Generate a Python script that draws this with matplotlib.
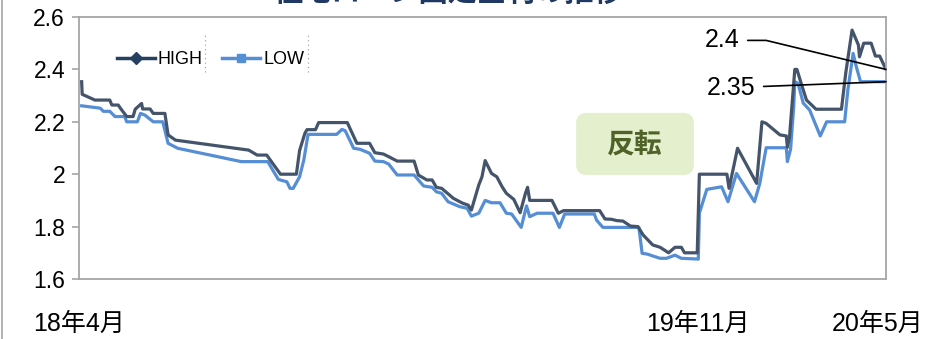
import numpy as np
import pandas as pd
import matplotlib
matplotlib.use('Agg')
import matplotlib.pyplot as plt
from matplotlib.lines import Line2D
from matplotlib.patches import FancyBboxPatch
from matplotlib.transforms import ScaledTranslation

plt.rcParams['font.family'] = ['Liberation Sans', 'Noto Sans CJK JP']

# days since 2018-04-01
high_days = [2.5, 3, 15, 29, 31, 37, 39, 45, 51, 53, 59, 60, 67, 70, 81, 84, 91,
             160, 168, 177, 190, 205, 208, 213, 215, 223, 226, 253, 262, 274, 279,
             287, 292, 300, 316, 320, 328, 333, 337, 342, 353, 359, 362, 367, 370,
             377, 380, 383, 389, 394, 399, 403, 410, 416, 421, 423, 425, 446, 452,
             457, 491, 496, 502, 507, 513, 520, 527, 532, 541, 548, 556, 562, 568,
             571, 583, 585, 611, 613, 617, 621, 639, 644, 648, 661, 667, 668, 670,
             675, 677, 681, 686, 695, 719, 723, 729, 735, 736, 740, 747, 751, 755, 761]
high_vals = [2.353, 2.305, 2.283, 2.283, 2.264, 2.264, 2.252, 2.22, 2.22, 2.248, 2.27,
             2.249, 2.249, 2.232, 2.232, 2.15, 2.13, 2.092, 2.073, 2.073, 2.0, 2.0,
             2.09, 2.156, 2.17, 2.17, 2.197, 2.197, 2.118, 2.118, 2.082, 2.077, 2.067,
             2.05, 2.05, 1.997, 1.978, 1.978, 1.95, 1.946, 1.908, 1.895, 1.889, 1.882,
             1.863, 1.959, 1.99, 2.052, 2.003, 1.99, 1.952, 1.927, 1.904, 1.853, 1.927,
             1.95, 1.9, 1.9, 1.851, 1.861, 1.861, 1.829, 1.828, 1.823, 1.821, 1.802,
             1.8, 1.768, 1.73, 1.721, 1.70, 1.721, 1.721, 1.70, 1.70, 2.0, 2.0, 1.946,
             2.022, 2.099, 1.965, 2.2, 2.194, 2.15, 2.146, 2.103, 2.143, 2.4, 2.4,
             2.347, 2.283, 2.248, 2.248, 2.385, 2.55, 2.493, 2.448, 2.5, 2.5, 2.451,
             2.451, 2.4]

low_days = [2.5, 20, 23, 29, 34, 43, 45, 55, 58, 62, 70, 79, 84, 93, 153, 178, 185,
            188, 196, 199, 202, 208, 212, 216, 243, 248, 251, 259, 265, 274, 279, 287,
            292, 300, 316, 325, 333, 337, 342, 348, 359, 366, 370, 377, 383, 389, 397,
            403, 408, 417, 422, 425, 432, 447, 453, 458, 486, 488, 494, 528, 531, 536,
            541, 548, 554, 562, 568, 584, 585, 592, 606, 612, 620, 637, 642, 648, 667,
            668, 671, 674, 675, 678, 683, 689, 699, 705, 722, 725, 730, 733, 737, 761]
low_vals = [2.261, 2.252, 2.24, 2.24, 2.22, 2.22, 2.20, 2.20, 2.232, 2.226, 2.20, 2.20,
            2.118, 2.099, 2.048, 2.048, 2.0, 1.98, 1.971, 1.946, 1.946, 1.99, 2.054,
            2.152, 2.152, 2.171, 2.166, 2.099, 2.095, 2.08, 2.05, 2.048, 2.039, 1.997,
            1.997, 1.955, 1.95, 1.933, 1.927, 1.895, 1.876, 1.87, 1.84, 1.851, 1.9,
            1.891, 1.891, 1.851, 1.848, 1.797, 1.879, 1.838, 1.851, 1.851, 1.797, 1.848,
            1.848, 1.825, 1.797, 1.797, 1.698, 1.695, 1.688, 1.679, 1.679, 1.691, 1.679,
            1.676, 1.851, 1.942, 1.952, 1.895, 2.003, 1.895, 1.965, 2.101, 2.101, 2.048,
            2.095, 2.258, 2.353, 2.347, 2.271, 2.245, 2.146, 2.20, 2.2, 2.321, 2.461,
            2.41, 2.353, 2.353]

start = pd.Timestamp('2018-04-01')
end = pd.Timestamp('2020-05-01')
high_dates = start + pd.to_timedelta(high_days, unit='D')
low_dates = start + pd.to_timedelta(low_days, unit='D')

tick_dates = [pd.Timestamp('2018-04-01'), pd.Timestamp('2019-11-01'), pd.Timestamp('2020-05-01')]
tick_labels = ['18年4月', '19年11月', '20年5月']
yticks = [1.6, 1.8, 2.0, 2.2, 2.4, 2.6]

HIGH_C = '#44546A'
LOW_C = '#558ED5'
GRAY = '#A6A6A6'

fig = plt.figure(figsize=(9.25, 3.39), dpi=100)
ax = fig.add_axes([79/925, 1 - 279/339, 807/925, 262/339])

ax.plot(low_dates, low_vals, color=LOW_C, lw=2.3, solid_joinstyle='round')
ax.plot(high_dates, high_vals, color=HIGH_C, lw=2.3, solid_joinstyle='round')

ax.set_xlim(start, end)
ax.set_ylim(1.6, 2.6)
ax.set_yticks(yticks)
ax.set_yticklabels([f'{v:g}' for v in yticks], fontsize=16.5)
ax.set_xticks(tick_dates)
ax.set_xticklabels(tick_labels, fontsize=18)
ax.tick_params(axis='x', length=0, pad=24)
ax.tick_params(axis='y', length=5, width=1.2, color=GRAY, pad=5)
for sp in ax.spines.values():
    sp.set_color(GRAY)
    sp.set_linewidth(1.3)

# shift the first and last month labels so they sit like the original
xlabs = ax.get_xticklabels()
xlabs[-1].set_transform(xlabs[-1].get_transform() + ScaledTranslation(-0.08, 0, fig.dpi_scale_trans))
xlabs[1].set_transform(xlabs[1].get_transform() + ScaledTranslation(0.05, 0, fig.dpi_scale_trans))

# legend
handles = [Line2D([], [], color='#254061', lw=2.5, marker='D', ms=6),
           Line2D([], [], color=LOW_C, lw=2.5, marker='s', ms=6)]
ax.legend(handles, ['HIGH', 'LOW'], loc='center left', bbox_to_anchor=(0.047, 0.836),
          ncol=2, frameon=False, fontsize=13, handlelength=2.1, handletextpad=0.15,
          columnspacing=1.1, borderpad=0, borderaxespad=0)
for xs in (0.156, 0.284):
    ax.plot([xs, xs], [0.79, 0.931], transform=ax.transAxes, color='#9A9A9A',
            lw=0.8, ls=(0, (1, 3)))

# end value labels
ax.annotate(f'{high_vals[-1]:g}', xy=(high_dates[-1], high_vals[-1]),
            xytext=(-164, 29), textcoords='offset pixels', ha='center', va='center',
            fontsize=18, arrowprops=dict(arrowstyle='-', color='black', lw=1.2,
                                         shrinkA=4, shrinkB=0,
                                         connectionstyle='angle,angleA=0,angleB=-13.6,rad=0'))
ax.annotate(f'{low_vals[-1]:.2f}', xy=(low_dates[-1], low_vals[-1]),
            xytext=(-155, -6), textcoords='offset pixels', ha='center', va='center',
            fontsize=18, arrowprops=dict(arrowstyle='-', color='black', lw=1.2,
                                         shrinkA=4, shrinkB=0))

# "反転" box
box = FancyBboxPatch((0.616, 0.397), 0.146, 0.237, transform=ax.transAxes,
                     boxstyle='round,pad=0,rounding_size=0.013', mutation_aspect=807/262,
                     fc='#E4EFCE', ec='none', zorder=1)
ax.add_patch(box)
ax.text(0.689, 0.515, '反転', transform=ax.transAxes, ha='center', va='center',
        fontsize=20, fontweight='bold', color='#4F6228', family='Noto Sans CJK JP')

# title, cut off at the top edge as in the original
fig.text(0.485, 1.022, '住宅ローン固定金利の推移', ha='center', va='center', fontsize=21,
         fontweight='bold', color='#1F3864', family='Noto Sans CJK JP')

fig.add_artist(Line2D([2/925, 2/925], [0, 1], transform=fig.transFigure, color=GRAY, lw=1.2))

fig.savefig('out.png', dpi=100)
